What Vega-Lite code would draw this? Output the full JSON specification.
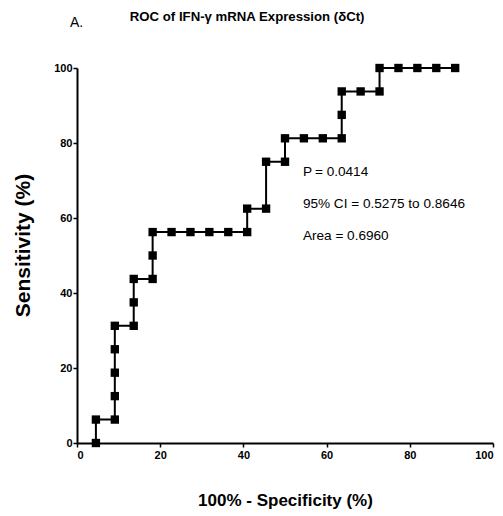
{
  "$schema": "https://vega.github.io/schema/vega-lite/v6.json",
  "autosize": "none",
  "width": 416,
  "height": 375,
  "padding": {"left": 77, "top": 68, "right": 10, "bottom": 73},
  "background": "white",
  "config": {
    "view": {"stroke": null},
    "axis": {
      "grid": false,
      "domainColor": "black",
      "domainWidth": 2,
      "tickColor": "black",
      "tickWidth": 1.5,
      "tickSize": 4,
      "labelFont": "Liberation Sans",
      "labelFontSize": 11,
      "labelFontWeight": "bold",
      "labelColor": "black",
      "titleFont": "Liberation Sans",
      "titleFontWeight": "bold",
      "titleColor": "black"
    }
  },
  "datasets": {
    "roc": [
      {"fpr": 4.545, "sens": 0},
      {"fpr": 4.545, "sens": 6.25},
      {"fpr": 9.091, "sens": 6.25},
      {"fpr": 9.091, "sens": 12.5},
      {"fpr": 9.091, "sens": 18.75},
      {"fpr": 9.091, "sens": 25},
      {"fpr": 9.091, "sens": 31.25},
      {"fpr": 13.636, "sens": 31.25},
      {"fpr": 13.636, "sens": 37.5},
      {"fpr": 13.636, "sens": 43.75},
      {"fpr": 18.182, "sens": 43.75},
      {"fpr": 18.182, "sens": 50},
      {"fpr": 18.182, "sens": 56.25},
      {"fpr": 22.727, "sens": 56.25},
      {"fpr": 27.273, "sens": 56.25},
      {"fpr": 31.818, "sens": 56.25},
      {"fpr": 36.364, "sens": 56.25},
      {"fpr": 40.909, "sens": 56.25},
      {"fpr": 40.909, "sens": 62.5},
      {"fpr": 45.455, "sens": 62.5},
      {"fpr": 45.455, "sens": 75},
      {"fpr": 50.0, "sens": 75},
      {"fpr": 50.0, "sens": 81.25},
      {"fpr": 54.545, "sens": 81.25},
      {"fpr": 59.091, "sens": 81.25},
      {"fpr": 63.636, "sens": 81.25},
      {"fpr": 63.636, "sens": 87.5},
      {"fpr": 63.636, "sens": 93.75},
      {"fpr": 68.182, "sens": 93.75},
      {"fpr": 72.727, "sens": 93.75},
      {"fpr": 72.727, "sens": 100},
      {"fpr": 77.273, "sens": 100},
      {"fpr": 81.818, "sens": 100},
      {"fpr": 86.364, "sens": 100},
      {"fpr": 90.909, "sens": 100}
    ],
    "notes": [
      {"x": 54.3, "y": 72.3, "label": "P", "style": "italic"},
      {"x": 57.2, "y": 72.3, "label": "= 0.0414", "style": "normal"},
      {"x": 54.3, "y": 63.7, "label": "95% CI = 0.5275 to 0.8646", "style": "normal"},
      {"x": 54.3, "y": 55.2, "label": "Area = 0.6960", "style": "normal"}
    ],
    "titles": [
      {"x": 40.9, "y": 113.6, "label": "ROC of IFN-γ mRNA Expression (δCt)"}
    ],
    "panel": [
      {"x": -1.7, "y": 112.1, "label": "A."}
    ]
  },
  "layer": [
    {
      "data": {"name": "roc"},
      "mark": {"type": "line", "color": "black", "strokeWidth": 2, "point": {"shape": "square", "size": 70, "filled": true, "color": "black", "opacity": 1}},
      "encoding": {
        "x": {"field": "fpr", "type": "quantitative", "scale": {"domain": [0, 100], "nice": false},
          "axis": {"values": [0, 20, 40, 60, 80, 100], "title": "100% - Specificity (%)", "titleFontSize": 17, "titlePadding": 32, "labelPadding": 2}},
        "y": {"field": "sens", "type": "quantitative", "scale": {"domain": [0, 100], "nice": false},
          "axis": {"values": [0, 20, 40, 60, 80, 100], "title": "Sensitivity (%)", "titleFontSize": 21, "titlePadding": 20, "labelPadding": 1, "titleY": 177}},
        "order": {"value": 0}
      }
    },
    {
      "data": {"name": "notes"},
      "mark": {"type": "text", "align": "left", "baseline": "middle", "font": "Liberation Sans", "fontSize": 13.6, "color": "black"},
      "encoding": {
        "x": {"field": "x", "type": "quantitative"},
        "y": {"field": "y", "type": "quantitative"},
        "text": {"field": "label"},
        "fontStyle": {"field": "style", "type": "nominal", "scale": {"domain": ["italic", "normal"], "range": ["italic", "normal"]}, "legend": null}
      }
    },
    {
      "data": {"name": "titles"},
      "mark": {"type": "text", "align": "center", "baseline": "middle", "font": "Liberation Sans", "fontSize": 13.2, "fontWeight": "bold", "color": "black"},
      "encoding": {
        "x": {"field": "x", "type": "quantitative"},
        "y": {"field": "y", "type": "quantitative"},
        "text": {"field": "label"}
      }
    },
    {
      "data": {"name": "panel"},
      "mark": {"type": "text", "align": "left", "baseline": "middle", "font": "Liberation Sans", "fontSize": 14, "color": "black"},
      "encoding": {
        "x": {"field": "x", "type": "quantitative"},
        "y": {"field": "y", "type": "quantitative"},
        "text": {"field": "label"}
      }
    }
  ]
}
